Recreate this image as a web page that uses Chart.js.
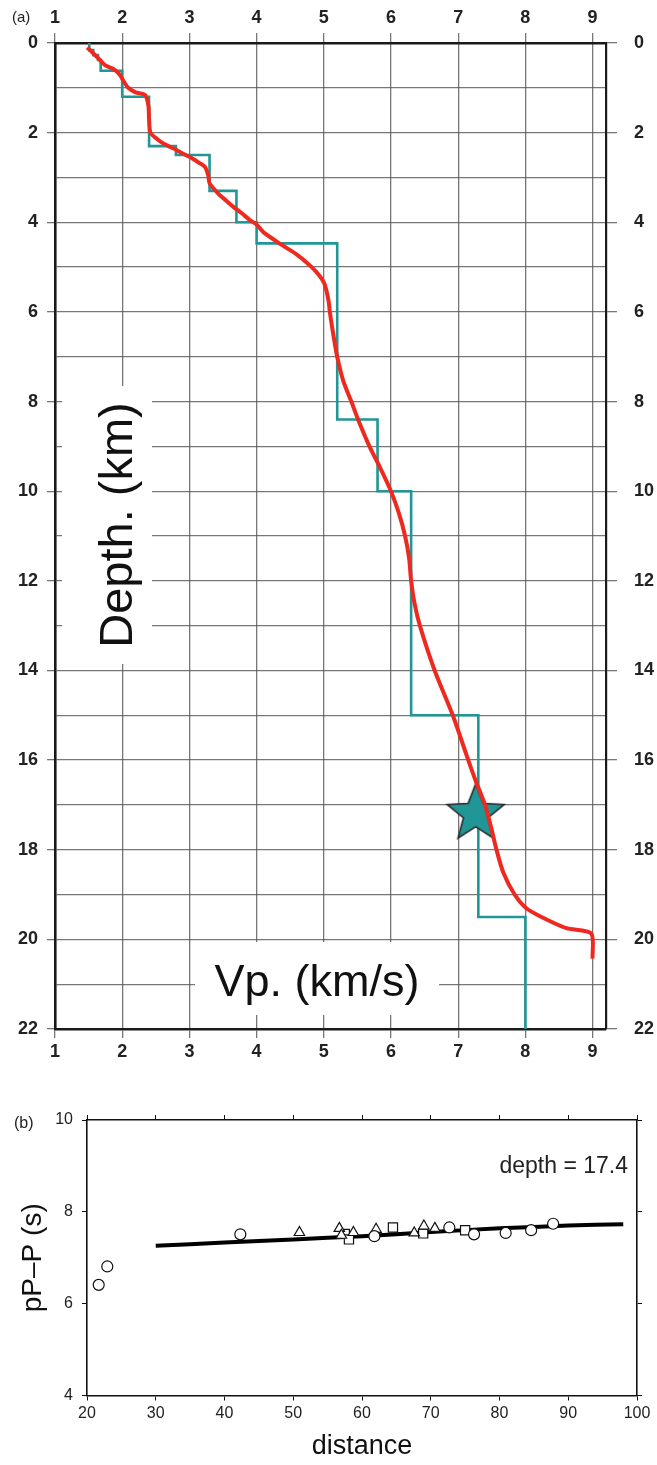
<!DOCTYPE html>
<html><head><meta charset="utf-8">
<script src="https://cdn.jsdelivr.net/npm/chart.js@4.4.1/dist/chart.umd.min.js"></script>
<style>
html,body{margin:0;padding:0;background:#fff;}
#wrap{position:relative;width:657px;height:1465px;overflow:hidden;background:#fff;}
#c1{position:absolute;left:0;top:0;}
#c2{position:absolute;left:0;top:1070px;}
</style></head><body>
<div id="wrap">
<canvas id="c1" width="657" height="1070"></canvas>
<canvas id="c2" width="657" height="395"></canvas>
</div>
<script>
// ===== (a) velocity model =====
const vpTicks = [1,2,3,4,5,6,7,8,9];
const depthTicks = [0,1,2,3,4,5,6,7,8,9,10,11,12,13,14,15,16,17,18,19,20,21,22];
// smooth model (red)
const redVp    = [1.48,1.55,1.65,1.75,1.89,1.97,2.02,2.09,2.2,2.34,2.39,2.4,2.42,2.51,2.62,2.76,2.88,3.0,3.12,3.23,3.28,3.3,3.38,3.45,3.55,3.65,3.78,3.9,4.0,4.1,4.35,4.6,4.82,4.93,5.01,5.07,5.09,5.14,5.2,5.29,5.41,5.51,5.68,5.83,6.0,6.12,6.21,6.27,6.3,6.35,6.43,6.65,6.92,7.15,7.27,7.4,7.49,7.57,7.67,7.84,8.01,8.24,8.61,8.98,9.0];
const redDepth = [0.1,0.2,0.35,0.5,0.6,0.72,0.85,1.0,1.1,1.16,1.4,1.7,2.0,2.13,2.25,2.35,2.45,2.54,2.65,2.76,2.95,3.13,3.28,3.39,3.52,3.65,3.8,3.95,4.05,4.22,4.48,4.72,5.0,5.18,5.37,5.74,6.0,6.49,7.0,7.54,8.0,8.4,9.0,9.45,10.0,10.5,11.0,11.5,12.0,12.5,13.0,14.0,15.0,16.0,16.5,17.0,17.5,18.0,18.5,19.0,19.3,19.5,19.75,19.87,20.43];
// layered model (teal)
const layerVp     = [1.51,1.57,1.64,1.68,2.0,2.4,2.8,3.3,3.7,4.0,5.2,5.8,6.3,7.3,8.0];
const layerTop    = [0,0.16,0.27,0.38,0.62,1.2,2.3,2.5,3.3,4.0,4.47,8.4,10.0,15.0,19.5];
const layerBottom = [0.16,0.27,0.38,0.62,1.2,2.3,2.5,3.3,4.0,4.47,8.4,10.0,15.0,19.5,22];
// hypocentre
const starVp = [7.26];
const starDepth = [17.2];

// ===== (b) pP-P times =====
const distTicks = [20,30,40,50,60,70,80,90,100];
const timeTicks = [4,6,8,10];
const circleDist = [21.7,22.95,42.3,61.8,72.7,76.3,80.9,84.6,87.8];
const circleTime = [6.41,6.81,7.51,7.47,7.66,7.51,7.54,7.6,7.74];
const triDist = [50.9,56.7,57.0,58.75,62.05,67.6,69.0,70.6];
const triTime = [7.55,7.64,7.49,7.55,7.62,7.54,7.69,7.64];
const sqDist = [57.5,58.1,64.5,68.9,75.0];
const sqTime = [7.52,7.4,7.66,7.53,7.6];
const curveDist = [30,40,50,60,70,80,90,98];
const curveTime = [7.26,7.33,7.40,7.47,7.56,7.64,7.70,7.73];

// ===== helpers =====
const TEAL = 'rgb(32,150,150)';
const RED = 'rgb(238,42,32)';
const GRID = 'rgba(85,85,85,0.8)';
const FAM = '"Liberation Sans", Arial, sans-serif';
const zip = (xs, ys) => xs.map((x,i)=>({x:x, y:ys[i]}));
const tealPts = [];
layerVp.forEach((v,i)=>{ tealPts.push({x:v,y:layerTop[i]}); tealPts.push({x:v,y:layerBottom[i]}); });

function makeStar(R){
  const c = document.createElement('canvas');
  const s = Math.ceil(2*R+6); c.width = s; c.height = s;
  const g = c.getContext('2d'); const cx = s/2, cy = s/2, r = R*0.43;
  g.beginPath();
  for (let i=0;i<10;i++){ const a=-Math.PI/2+i*Math.PI/5; const rr=i%2?r:R; g.lineTo(cx+rr*Math.cos(a), cy+rr*Math.sin(a)); }
  g.closePath(); g.fillStyle = TEAL; g.fill(); g.lineWidth = 1.6; g.strokeStyle = '#2b2b2b'; g.stroke();
  return c;
}
const starImg = makeStar(30);

const evenTick = c => (c.tick && Math.round(c.tick.value)%2===0) ? GRID : 'rgba(0,0,0,0)';
const tickFontA = {family:FAM, size:18, weight:'bold'};

const labelsA = {
  id:'labelsA',
  beforeDatasetsDraw(chart){
    const g = chart.ctx; g.save();
    g.fillStyle = '#fff';
    g.fillRect(195, 942, 244, 73);
    g.fillRect(62, 386, 90, 278);
    g.fillStyle = '#111';
    g.textAlign = 'center'; g.textBaseline = 'alphabetic';
    g.font = '45px ' + FAM;
    g.fillText('Vp. (km/s)', 317, 996);
    g.font = '47px ' + FAM;
    g.translate(132, 525); g.rotate(-Math.PI/2);
    g.fillText('Depth. (km)', 0, 0);
    g.restore();
  },
  afterDraw(chart){
    const g = chart.ctx; g.save();
    g.fillStyle = '#222'; g.font = '15px ' + FAM;
    g.textAlign = 'left'; g.textBaseline = 'middle';
    g.fillText('(a)', 12, 18);
    g.restore();
  }
};

new Chart(document.getElementById('c1'), {
  type:'scatter',
  data:{datasets:[
    {data: tealPts, showLine:true, borderColor:TEAL, borderWidth:2.6, pointRadius:0, tension:0, order:3},
    {data: zip(starVp, starDepth), pointStyle: starImg, pointRadius:30, order:2},
    {data: zip(redVp, redDepth), showLine:true, borderColor:RED, borderWidth:4, pointRadius:0, tension:0.25, order:1}
  ]},
  options:{
    responsive:false, animation:false, events:[],
    layout:{padding:0},
    plugins:{legend:{display:false}, tooltip:{enabled:false}},
    scales:{
      x:{type:'linear', position:'bottom', min:1, max:9.2,
        afterBuildTicks: s=>{ s.ticks = vpTicks.map(v=>({value:v})); },
        afterFit: s=>{ s.height = 41; },
        grid:{color:GRID, lineWidth:1.3, tickLength:9, tickColor:GRID},
        border:{color:'#1a1a1a', width:2.6},
        ticks:{font:tickFontA, color:'#222', padding:3, maxRotation:0, autoSkip:false}},
      x2:{type:'linear', position:'top', min:1, max:9.2,
        afterBuildTicks: s=>{ s.ticks = vpTicks.map(v=>({value:v})); },
        afterFit: s=>{ s.height = 43; },
        grid:{drawOnChartArea:false, color:GRID, lineWidth:1.3, tickLength:10, tickColor:GRID},
        border:{color:'#1a1a1a', width:2.6},
        ticks:{font:tickFontA, color:'#222', padding:4, maxRotation:0, autoSkip:false}},
      y:{type:'linear', position:'left', reverse:true, min:0, max:22,
        afterBuildTicks: s=>{ s.ticks = depthTicks.map(v=>({value:v})); },
        afterFit: s=>{ s.width = 55; },
        grid:{color:GRID, lineWidth:1.3, tickLength:8, tickColor:evenTick},
        border:{color:'#1a1a1a', width:2.6},
        ticks:{font:tickFontA, color:'#222', padding:9, autoSkip:false, callback:v=> v%2===0 ? String(v) : ''}},
      y2:{type:'linear', position:'right', reverse:true, min:0, max:22,
        afterBuildTicks: s=>{ s.ticks = depthTicks.map(v=>({value:v})); },
        afterFit: s=>{ s.width = 51; },
        grid:{drawOnChartArea:false, color:GRID, lineWidth:1.3, tickLength:11, tickColor:evenTick},
        border:{color:'#1a1a1a', width:2.2},
        ticks:{font:tickFontA, color:'#222', padding:17, autoSkip:false, callback:v=> v%2===0 ? String(v) : ''}}
    }
  },
  plugins:[labelsA]
});

// ===== chart (b) =====
const labelsB = {
  id:'labelsB',
  afterDraw(chart){
    const g = chart.ctx; g.save();
    g.fillStyle = '#222'; g.textBaseline = 'middle';
    g.font = '16px ' + FAM; g.textAlign = 'left';
    g.fillText('(b)', 14, 54);
    g.font = '23px ' + FAM; g.textAlign = 'right';
    g.fillText('depth = 17.4', 628, 97);
    g.restore();
  }
};
const tickFontB = {family:FAM, size:16};
const mk = {backgroundColor:'#fff', borderColor:'#111', borderWidth:1.2, showLine:false};
new Chart(document.getElementById('c2'), {
  type:'scatter',
  data:{datasets:[
    {data: zip(curveDist, curveTime), showLine:true, borderColor:'#000', borderWidth:4, pointRadius:0, tension:0.3, order:4},
    Object.assign({data: zip(circleDist, circleTime), pointStyle:'circle', pointRadius:5.5, order:1}, mk),
    Object.assign({data: zip(triDist, triTime), pointStyle:'triangle', pointRadius:6, order:2}, mk),
    Object.assign({data: zip(sqDist, sqTime), pointStyle:'rect', pointRadius:6.5, order:3}, mk)
  ]},
  options:{
    responsive:false, animation:false, events:[],
    layout:{padding:0},
    plugins:{legend:{display:false}, tooltip:{enabled:false}},
    scales:{
      x:{type:'linear', position:'bottom', min:20, max:100,
        afterBuildTicks: s=>{ s.ticks = distTicks.map(v=>({value:v})); },
        afterFit: s=>{ s.height = 69.5; },
        grid:{drawOnChartArea:false, color:'#111', tickLength:5},
        border:{color:'#111', width:1.6},
        ticks:{font:tickFontB, color:'#222', padding:3, maxRotation:0, autoSkip:false},
        title:{display:true, text:'distance', color:'#111', font:{family:FAM, size:27}, padding:{top:0,bottom:2}}},
      x2:{type:'linear', position:'top', min:20, max:100,
        afterBuildTicks: s=>{ s.ticks = distTicks.map(v=>({value:v})); },
        afterFit: s=>{ s.height = 50; },
        grid:{drawOnChartArea:false, color:'#111', tickLength:5},
        border:{color:'#111', width:1.6},
        ticks:{display:false}},
      y:{type:'linear', position:'left', min:4, max:10,
        afterBuildTicks: s=>{ s.ticks = timeTicks.map(v=>({value:v})); },
        afterFit: s=>{ s.width = 87; },
        grid:{drawOnChartArea:false, color:'#111', tickLength:5},
        border:{color:'#111', width:1.6},
        ticks:{font:tickFontB, color:'#222', padding:9},
        title:{display:true, text:'pP\u2013P (s)', color:'#111', font:{family:FAM, size:28}, padding:{top:16,bottom:0}}},
      y2:{type:'linear', position:'right', min:4, max:10,
        afterBuildTicks: s=>{ s.ticks = timeTicks.map(v=>({value:v})); },
        afterFit: s=>{ s.width = 20; },
        grid:{drawOnChartArea:false, color:'#111', tickLength:5},
        border:{color:'#111', width:1.6},
        ticks:{display:false}}
    }
  },
  plugins:[labelsB]
});
</script>
</body></html>
